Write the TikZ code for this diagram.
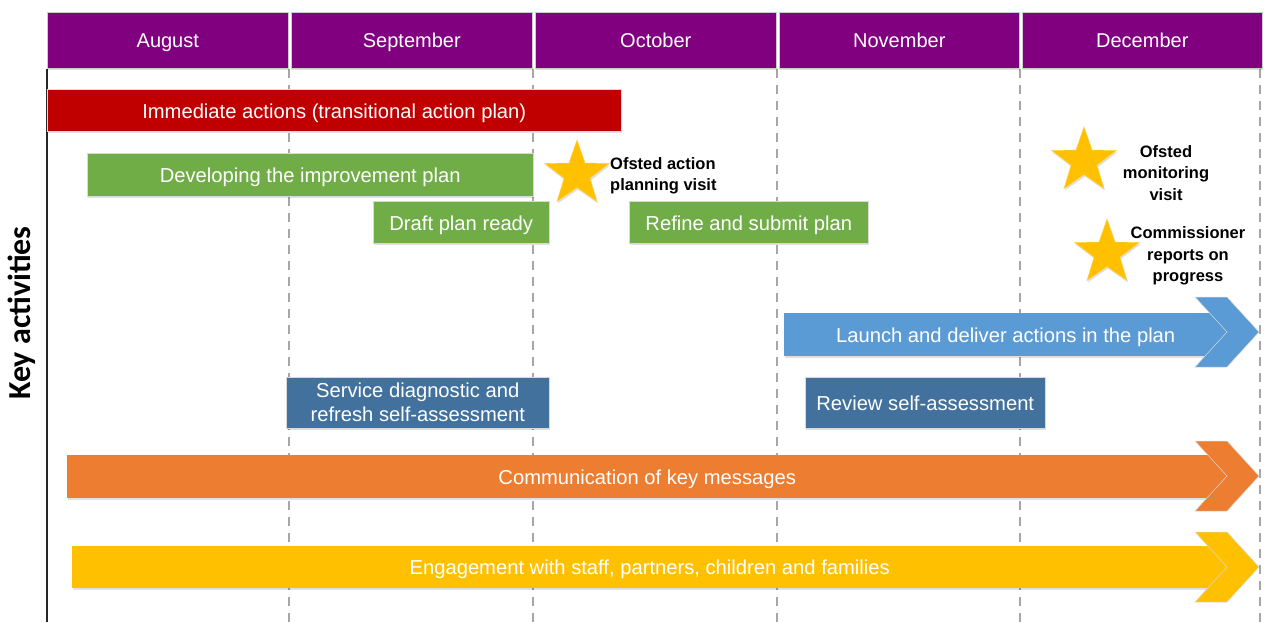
\documentclass[tikz,border=0pt]{standalone}
\usepackage{fontspec}
\setmainfont{Liberation Sans}
\newfontfamily\keyfont{Carlito}
\usetikzlibrary{shapes.geometric,shadows}
\definecolor{hdrc}{HTML}{800080}
\definecolor{redc}{HTML}{C00000}
\definecolor{greenc}{HTML}{70AD47}
\definecolor{bluec}{HTML}{5B9BD5}
\definecolor{dbluec}{HTML}{41719C}
\definecolor{orangec}{HTML}{ED7D31}
\definecolor{yellowc}{HTML}{FFC000}
\definecolor{gridc}{HTML}{A6A6A6}
\begin{document}
\begin{tikzpicture}[x=1pt,y=-1pt,
  softshadow/.style={drop shadow={shadow xshift=1pt,shadow yshift=-2pt,opacity=0.12,fill=black}},
  hdr/.style={anchor=north west, inner sep=0pt, fill=hdrc, draw=gray!40, line width=0.6pt, text=white,
    minimum height=56pt, text height=18.5pt, text depth=4pt, font=\fontsize{20}{23}\selectfont, softshadow},
  bartext/.style={anchor=north west, inner sep=0pt, text=white, align=center,
    font=\fontsize{20.2}{24}\selectfont},
  bar/.style={bartext, draw=white!70!gray, line width=0.5pt, softshadow},
  one/.style={text height=19.5pt, text depth=4pt},
  grid/.style={gridc, line width=1.3pt, dash pattern=on 9pt off 7pt},
  starmark/.style={star, star points=5, star point ratio=2.5, minimum size=68pt, inner sep=0pt,
    fill=yellowc, draw=yellowc!70!white, line width=0.5pt, softshadow},
  lbl/.style={inner sep=0pt, text=black, font=\bfseries\fontsize{16.5}{21.5}\selectfont},
  head/.style={draw=white!70!gray, line width=0.5pt}
]
\useasboundingbox (0,0) rectangle (1264,622);

% grid lines
\draw[grid] (289,69) -- (289,622);
\draw[grid] (533,69) -- (533,622);
\draw[grid] (777,69) -- (777,622);
\draw[grid] (1020,69) -- (1020,622);
\draw[grid] (1260,69) -- (1260,622);
\draw[black!85, line width=1.3pt] (47,69) -- (47,622);

% header
\node[hdr, minimum width=241pt] (aug) at (47,12) {August};
\node[hdr, minimum width=241pt] (sep) at (291,12) {September};
\node[hdr, minimum width=241pt] (oct) at (535,12) {October};
\node[hdr, minimum width=240pt] (nov) at (779,12) {November};
\node[hdr, minimum width=240pt] (dec) at (1022,12) {December};

% axis label
\node[rotate=90, inner sep=0pt, font=\keyfont\bfseries\fontsize{32}{36}\selectfont] (key) at (22,313) {Key activities};

% bars
\node[bar, one, fill=redc, minimum width=574pt, minimum height=42pt] (imm) at (47,89) {Immediate actions (transitional action plan)};
\node[bar, one, fill=greenc, minimum width=446pt, minimum height=43pt] (dev) at (87,153) {Developing the improvement plan};
\node[bar, one, fill=greenc, minimum width=176pt, minimum height=42pt] (draft) at (373,201) {Draft plan ready};
\node[bar, one, fill=greenc, minimum width=239pt, minimum height=42pt] (refine) at (629,201) {Refine and submit plan};
\node[bar, fill=dbluec, minimum width=263pt, minimum height=51pt] (diag) at (286,377) {Service diagnostic and\\refresh self-assessment};
\node[bar, one, fill=dbluec, minimum width=240pt, minimum height=51pt] (review) at (805,377) {Review self-assessment};

% arrows
\fill[bluec, softshadow] (784,313) rectangle (1227,356);
\filldraw[bluec, head] (1195,297) -- (1227,297) -- (1259,332) -- (1227,367) -- (1195,367) -- (1227,332) -- cycle;
\node[bartext, one, minimum width=443pt, minimum height=43pt] (launch) at (784,313) {Launch and deliver actions in the plan};

\fill[orangec, softshadow] (67,455) rectangle (1227,498);
\filldraw[orangec, head] (1195,441) -- (1227,441) -- (1259,476) -- (1227,511) -- (1195,511) -- (1227,476) -- cycle;
\node[bartext, one, minimum width=1160pt, minimum height=43pt] (comm) at (67,455) {Communication of key messages};

\fill[yellowc, softshadow] (72,546) rectangle (1227,588);
\filldraw[yellowc, head] (1195,532) -- (1227,532) -- (1259,567) -- (1227,602) -- (1195,602) -- (1227,567) -- cycle;
\node[bartext, one, minimum width=1155pt, minimum height=42pt] (eng) at (72,546) {Engagement with staff, partners, children and families};

% stars and labels
\node[starmark] (s1) at (577,174) {};
\node[lbl, anchor=west, align=left] (l1) at (610,176) {Ofsted action\\planning visit};
\node[starmark] (s2) at (1084,161) {};
\node[lbl, align=center] (l2) at (1166,173) {Ofsted\\monitoring\\visit};
\node[starmark] (s3) at (1107,253) {};
\node[lbl, align=center] (l3) at (1188,256) {Commissioner\\reports on\\progress};
\end{tikzpicture}
\end{document}
